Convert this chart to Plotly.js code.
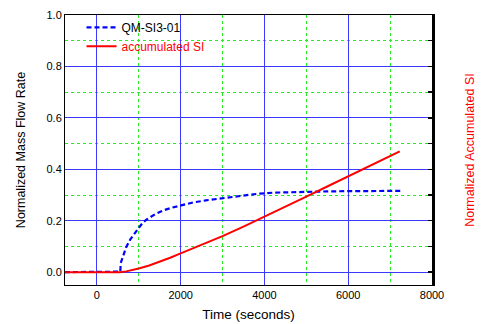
<!DOCTYPE html>
<html><head><meta charset="utf-8">
<script src="https://cdn.plot.ly/plotly-3.0.1.min.js"></script>
<style>html,body{margin:0;padding:0;background:#fff}#chart{width:488px;height:324px}</style>
</head><body><div id="chart"></div>
<script>
var flowTime = [-760, -400, 0, 300, 560, 570, 600, 650, 700, 800, 900, 1000, 1100, 1200, 1400, 1600, 1800, 2000, 2300, 2600, 3000, 3400, 3800, 4200, 4600, 5000, 5500, 6000, 6500, 7000, 7250];
var flowRate = [0, 0, 0, 0, 0.002, 0.035, 0.05, 0.075, 0.097, 0.128, 0.152, 0.172, 0.193, 0.206, 0.226, 0.241, 0.251, 0.26, 0.271, 0.279, 0.288, 0.296, 0.304, 0.309, 0.311, 0.313, 0.314, 0.315, 0.315, 0.316, 0.316];
var siTime = [-760, -400, 0, 300, 550, 700, 850, 1000, 1250, 1500, 1750, 2000, 2500, 3000, 3500, 4000, 4500, 5000, 5500, 6000, 6500, 7000, 7230];
var siAccum = [0, 0, 0, 0, 0, 0.003, 0.008, 0.014, 0.026, 0.04, 0.056, 0.073, 0.105, 0.14, 0.177, 0.215, 0.255, 0.294, 0.333, 0.372, 0.411, 0.451, 0.47];
var flowName = 'QM-SI3-01';
var siName = 'accumulated SI';

var traces = [
  {x: flowTime, y: flowRate, type: 'scatter', mode: 'lines', name: flowName,
   line: {color: '#0000ff', width: 2.2, dash: '5px,3px'}, xaxis: 'x', yaxis: 'y'},
  {x: siTime, y: siAccum, type: 'scatter', mode: 'lines', name: '<span style="color:#ff0000">' + siName + '</span>',
   line: {color: '#ff0000', width: 2}, xaxis: 'x', yaxis: 'y2'}
];
var font = 'Liberation Sans, Arial, sans-serif';
var layout = {
  width: 488, height: 324,
  margin: {l: 65, r: 56, t: 15, b: 39, pad: 0},
  paper_bgcolor: '#fff', plot_bgcolor: '#fff',
  font: {family: font, size: 11, color: '#000'},
  showlegend: true,
  legend: {x: 0.045, y: 1.008, xanchor: 'left', yanchor: 'top', bgcolor: 'rgba(0,0,0,0)',
           font: {family: font, size: 12, color: '#000'}, itemwidth: 30, tracegroupgap: 0},
  xaxis: {range: [-760, 8000], tickvals: [0, 2000, 4000, 6000, 8000], ticks: '',
          showline: true, linecolor: '#000', linewidth: 1, mirror: true,
          showgrid: true, gridcolor: '#3a3aff', gridwidth: 1.2, zeroline: false,
          minor: {tickvals: [1000, 3000, 5000, 7000], showgrid: true, gridcolor: '#22ee22', griddash: 'dot', gridwidth: 1, ticks: ''},
          tickfont: {size: 11}, title: {text: 'Time (seconds)', font: {size: 13.5}, standoff: 9}},
  yaxis: {range: [-0.05, 1.0], tickvals: [0, 0.2, 0.4, 0.6, 0.8, 1.0], ticktext: ['0.0','0.2','0.4','0.6','0.8','1.0'], ticks: '',
          showline: true, linecolor: '#000', linewidth: 1,
          showgrid: true, gridcolor: '#3a3aff', gridwidth: 1.2, zeroline: false,
          minor: {tickvals: [0.1, 0.3, 0.5, 0.7, 0.9], showgrid: true, gridcolor: '#22ee22', griddash: 'dot', gridwidth: 1, ticks: ''},
          tickfont: {size: 11}, title: {text: 'Normalized Mass Flow Rate', font: {size: 12.5}, standoff: 18}},
  yaxis2: {range: [-0.05, 1.0], overlaying: 'y', side: 'right', showticklabels: false,
           tickvals: [0, 0.1, 0.2, 0.3, 0.4, 0.5, 0.6, 0.7, 0.8, 0.9], ticks: 'inside', ticklen: 4, tickcolor: '#000', tickwidth: 1.5,
           showline: true, linecolor: '#000', linewidth: 2.5, showgrid: false, zeroline: false,
           title: {text: 'Normalized Accumulated SI', font: {size: 12.5, color: '#ff0000'}, standoff: 32}}
};
Plotly.newPlot('chart', traces, layout, {displayModeBar: false, staticPlot: true});
</script></body></html>
